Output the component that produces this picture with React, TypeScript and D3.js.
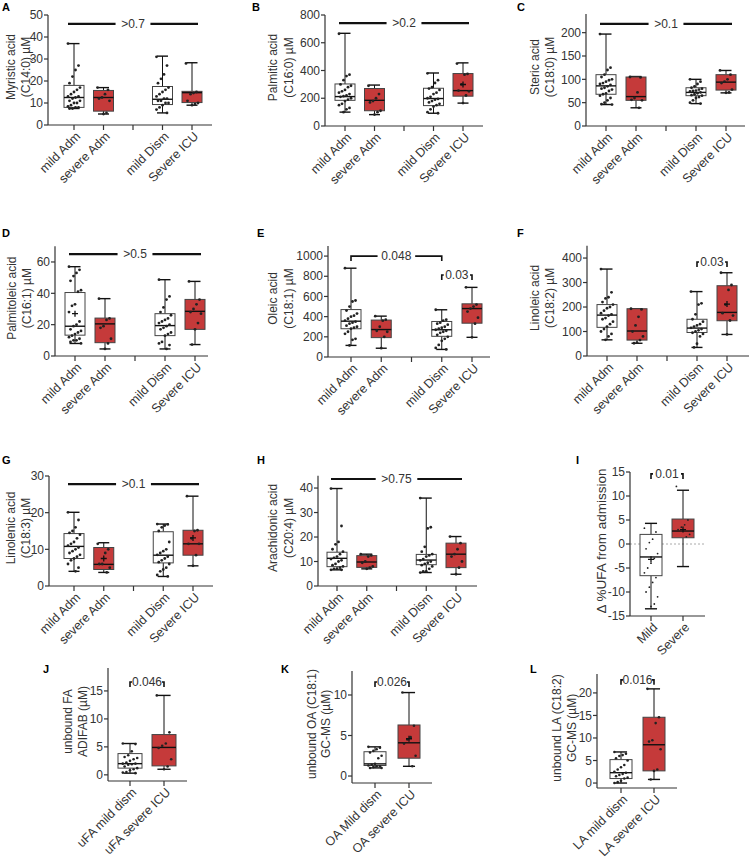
import React from "react";
import * as d3 from "d3";

// ---------- categories ----------
const CATS_FA = ["mild Adm", "severe Adm", "mild Dism", "Severe ICU"];
const CATS_I = ["Mild", "Severe"];
const CATS_J = ["uFA mild dism", "uFA severe ICU"];
const CATS_K = ["OA Mild dism", "OA severe ICU"];
const CATS_L = ["LA mild dism", "LA severe ICU"];

// ---------- box stats: [min, q1, median, q3, max] ----------
const A_BOX = [[7.5, 8, 12.5, 18, 37], [5, 6.3, 12.5, 15.7, 17], [5.5, 9.3, 11.7, 17.5, 31.3], [9, 10.2, 14.7, 15.3, 28.3]];
const B_BOX = [[100, 185, 212, 303, 668], [82, 110, 185, 270, 295], [92, 147, 198, 272, 382], [165, 215, 255, 378, 455]];
const C_BOX = [[46, 68, 86, 110, 197], [39, 55, 63, 105, 106], [48, 65, 72, 82, 100], [71, 77, 94, 110, 119]];
const D_BOX = [[8, 13.3, 19, 40.5, 57], [4.5, 8.5, 20.5, 24.2, 36.6], [4.5, 13, 19.4, 27, 48.7], [7.3, 17, 28.5, 36.1, 47.6]];
const E_BOX = [[115, 280, 355, 470, 880], [87, 192, 272, 366, 405], [75, 205, 270, 352, 468], [195, 335, 480, 527, 690]];
const F_BOX = [[66, 117, 167, 210, 355], [52, 65, 102, 193, 193], [35, 96, 114, 150, 263], [88, 144, 178, 287, 340]];
const G_BOX = [[4, 7.5, 10.8, 14.3, 20.1], [3.7, 4.5, 5.9, 10.5, 11.8], [2.6, 6.3, 8.4, 14.8, 16.9], [5.5, 8.4, 11.5, 15.2, 24.5]];
const H_BOX = [[6.6, 7.9, 11.3, 13.8, 39.8], [7, 7.6, 9.8, 12.4, 13], [5.5, 8.7, 10.6, 12.9, 35.9], [4.8, 7.5, 13, 17.5, 20.2]];
const I_BOX = [[-13.5, -6.6, -2.7, 2.0, 4.3], [-4.7, 1.3, 2.7, 5.2, 11.2]];
const J_BOX = [[0.3, 1.2, 2.0, 3.8, 5.6], [1.0, 1.6, 4.9, 7.2, 14.2]];
const K_BOX = [[1.0, 1.3, 1.5, 3.0, 3.6], [1.2, 2.2, 4.1, 6.3, 10.3]];
const L_BOX = [[0, 1.0, 2.3, 5.2, 6.9], [0.8, 2.7, 8.5, 14.6, 20.9]];

// ---------- means ("+" markers) ----------
const A_MEAN = [null, null, null, null];
const B_MEAN = [null, null, null, 299];
const C_MEAN = [null, null, null, null];
const D_MEAN = [27, null, null, null];
const E_MEAN = [null, null, null, null];
const F_MEAN = [null, null, null, 212];
const G_MEAN = [null, 7.5, null, 13.1];
const H_MEAN = [null, null, null, null];
const I_MEAN = [-3.2, 3.0];
const J_MEAN = [null, null];
const K_MEAN = [null, 4.6];
const L_MEAN = [null, null];

// ---------- individual points ----------
const A_PTS = [
  [37, 27, 25, 22, 19, 17, 16, 15, 14, 13, 13, 12.5, 12, 11, 11, 10, 10, 9, 8.5, 8, 8, 7.5, 7.5],
  [17, 16, 14, 12.5, 12, 11, 5.5, 5],
  [31, 27, 23, 21, 19, 17, 16, 15, 14, 13, 12, 12, 11, 11, 10, 10, 9, 8, 7, 5.5],
  [28, 15, 14.5, 14, 11, 10, 9.5, 9],
];
const B_PTS = [
  [665, 370, 360, 330, 300, 290, 280, 260, 250, 240, 230, 220, 215, 210, 200, 190, 180, 160, 150, 130, 120, 100],
  [290, 230, 200, 180, 170, 110, 100, 82],
  [380, 330, 310, 280, 270, 260, 240, 230, 210, 200, 195, 190, 180, 170, 160, 150, 140, 120, 100, 92],
  [450, 375, 370, 300, 255, 250, 220, 165],
];
const C_PTS = [
  [197, 125, 120, 110, 105, 100, 98, 95, 92, 90, 88, 85, 82, 80, 78, 75, 70, 68, 65, 60, 55, 50, 47, 46],
  [105, 104, 72, 60, 56, 55, 39],
  [100, 95, 90, 85, 82, 80, 78, 76, 75, 74, 72, 70, 68, 66, 65, 62, 60, 55, 50, 48],
  [119, 110, 100, 95, 92, 78, 72, 71],
];
const D_PTS = [
  [57, 55, 53, 51, 48, 42, 41, 33, 32, 28, 22, 20, 19, 17, 16, 15, 14, 13, 12, 11, 10, 10, 9, 8],
  [36.6, 24, 23, 19, 18, 11, 8, 4.5],
  [48.7, 38, 36, 31, 28, 26, 24, 23, 22, 21, 20, 19, 18, 17, 15, 14, 13, 9, 8, 7, 4.5],
  [47.6, 36, 33, 30, 28, 27, 21, 17, 7.3],
];
const E_PTS = [
  [880, 560, 550, 500, 460, 430, 410, 400, 380, 360, 350, 340, 330, 310, 300, 290, 280, 250, 230, 180, 170, 115],
  [405, 370, 360, 300, 260, 250, 200, 87],
  [468, 370, 360, 340, 330, 320, 300, 290, 280, 270, 260, 250, 240, 220, 200, 180, 160, 120, 90, 75],
  [690, 520, 500, 480, 450, 390, 330, 195],
];
const F_PTS = [
  [355, 260, 240, 235, 220, 210, 200, 195, 185, 175, 170, 165, 155, 150, 140, 130, 120, 110, 100, 90, 80, 66],
  [193, 190, 160, 125, 100, 80, 65, 55, 52],
  [263, 215, 210, 170, 150, 140, 130, 125, 120, 115, 110, 105, 100, 95, 90, 80, 50, 35],
  [340, 290, 270, 210, 175, 165, 145, 88],
];
const G_PTS = [
  [20.1, 18, 16, 15, 14.5, 14, 13, 12, 11.5, 11, 10.5, 10, 9.5, 9, 8.5, 8, 7.5, 7, 6, 5, 4],
  [11.5, 10, 9, 6, 6, 5, 3.7],
  [16.9, 16.8, 16.5, 16, 15, 12, 10, 9.5, 9, 8.5, 8, 7.5, 7, 6.5, 6, 5, 4.5, 4, 3, 2.6],
  [24.5, 15.2, 15, 13, 11.5, 11.5, 8.4, 5.5],
];
const H_PTS = [
  [39.8, 24.5, 18, 17, 15, 14, 13, 12, 11.5, 11, 10.5, 10, 9, 8.5, 8, 7.5, 7, 7, 6.6, 6.6],
  [13, 12.5, 12, 10, 9.5, 8, 7.5, 7],
  [35.9, 24, 23.5, 16, 14, 13, 12.5, 12, 11, 10.5, 10, 9.5, 9, 8.5, 8, 7, 6, 6, 5.5],
  [20.2, 17.5, 15, 13, 12, 10, 7.5, 4.8],
];
const I_PTS = [
  [3.3, 2.5, 1, 0.3, -1, -2, -3, -4, -5, -6, -7, -8, -9, -10, -11, -12.5, -13],
  [12, 5, 4, 3.5, 3, 2, 1.5],
];
const J_PTS = [
  [5.6, 5.5, 4.2, 3.5, 3.2, 3, 2.8, 2.5, 2.2, 2, 2, 1.9, 1.8, 1.5, 1.2, 1, 0.8, 0.5, 0.4, 0.3],
  [14.2, 7.6, 5.6, 5.2, 4.8, 2.8, 1.5, 1.0],
];
const K_PTS = [
  [3.6, 3.5, 3.3, 3.1, 2.9, 2.5, 2.2, 1.5, 1.4, 1.3, 1.2, 1.2, 1.1, 1.0, 1.0],
  [10.3, 6.2, 4.8, 4.5, 4.0, 2.5, 1.2],
];
const L_PTS = [
  [6.9, 6.5, 6.2, 6, 5.5, 5, 4, 3.5, 3, 2.5, 2.3, 2, 1.8, 1.5, 1.2, 1, 0.5, 0.2, 0],
  [20.9, 14.6, 13.3, 9.5, 9.2, 7.5, 3, 2.7, 0.8],
];

// ---------- significance labels ----------
const SIG_A = [">0.7"];
const SIG_B = [">0.2"];
const SIG_C = [">0.1"];
const SIG_D = [">0.5"];
const SIG_E = ["0.048", "0.03"];
const SIG_F = ["0.03"];
const SIG_G = [">0.1"];
const SIG_H = [">0.75"];
const SIG_I = ["0.01"];
const SIG_J = ["0.046"];
const SIG_K = ["0.026"];
const SIG_L = ["0.016"];

// ---------- styles / layout ----------
const RED = "#c53a3a";
const INK = "#333";
const FONT = "'Liberation Sans', Arial, sans-serif";
const FS = 12;

type Sig = { kind: "line" | "bracket"; from: number; to: number; y: number; text: string };
type PanelSpec = {
  letter: string; lx: number; ly: number;
  cats: string[]; slots: number[]; tickSlots: number[]; lastSlot: number;
  left: number; x0: number; x1: number; right: number;
  yDomain: [number, number]; yRange: [number, number]; ticks: number[];
  yLabel: string[]; yLabelX: number[]; yLabelFs?: number;
  box: number[][]; pts: number[][]; means: (number | null)[];
  fills: string[]; bw: number; r: number;
  sigs: Sig[]; zeroLine?: boolean;
};

const FA_SLOTS = [0, 1, 3, 4];
const FA_TICKS = [0, 1, 2, 3, 4];
const FA_FILLS = ["#fff", RED, "#fff", RED];
const PAIR_FILLS = ["#fff", RED];

const PANELS: PanelSpec[] = [
  { letter: "A", lx: 2, ly: 11, cats: CATS_FA, slots: FA_SLOTS, tickSlots: FA_TICKS, lastSlot: 4,
    left: 48, x0: 74, x1: 192, right: 212, yDomain: [0, 50], yRange: [125, 15], ticks: d3.range(0, 51, 10),
    yLabel: ["Myristic acid", "(C14:0) µM"], yLabelX: [11, 26], box: A_BOX, pts: A_PTS, means: A_MEAN,
    fills: FA_FILLS, bw: 10, r: 1.4, sigs: [{ kind: "line", from: 0, to: 4, y: 46, text: SIG_A[0] }] },
  { letter: "B", lx: 252, ly: 11, cats: CATS_FA, slots: FA_SLOTS, tickSlots: FA_TICKS, lastSlot: 4,
    left: 325, x0: 345, x1: 463, right: 483, yDomain: [0, 800], yRange: [126, 15], ticks: d3.range(0, 801, 200),
    yLabel: ["Palmitic acid", "(C16:0) µM"], yLabelX: [273, 289], box: B_BOX, pts: B_PTS, means: B_MEAN,
    fills: FA_FILLS, bw: 10, r: 1.4, sigs: [{ kind: "line", from: 0, to: 4, y: 742, text: SIG_B[0] }] },
  { letter: "C", lx: 517, ly: 11, cats: CATS_FA, slots: FA_SLOTS, tickSlots: FA_TICKS, lastSlot: 4,
    left: 586, x0: 606, x1: 726, right: 745, yDomain: [0, 240], yRange: [126, 14], ticks: d3.range(0, 201, 50),
    yLabel: ["Steric acid", "(C18:0) µM"], yLabelX: [535, 550], box: C_BOX, pts: C_PTS, means: C_MEAN,
    fills: FA_FILLS, bw: 10, r: 1.4, sigs: [{ kind: "line", from: 0, to: 4, y: 219, text: SIG_C[0] }] },
  { letter: "D", lx: 2, ly: 237, cats: CATS_FA, slots: FA_SLOTS, tickSlots: FA_TICKS, lastSlot: 4,
    left: 55, x0: 75, x1: 195, right: 208, yDomain: [0, 70], yRange: [356, 246.3], ticks: d3.range(0, 61, 20),
    yLabel: ["Palmitoleic acid", "(C16:1) µM"], yLabelX: [12, 27], box: D_BOX, pts: D_PTS, means: D_MEAN,
    fills: FA_FILLS, bw: 10, r: 1.4, sigs: [{ kind: "line", from: 0, to: 4, y: 65, text: SIG_D[0] }] },
  { letter: "E", lx: 257, ly: 237, cats: CATS_FA, slots: FA_SLOTS, tickSlots: FA_TICKS, lastSlot: 4,
    left: 328, x0: 351, x1: 472, right: 490, yDomain: [0, 1100], yRange: [357, 246], ticks: d3.range(0, 1001, 200),
    yLabel: ["Oleic acid", "(C18:1) µM"], yLabelX: [273, 289], box: E_BOX, pts: E_PTS, means: E_MEAN,
    fills: FA_FILLS, bw: 10, r: 1.4,
    sigs: [{ kind: "bracket", from: 0, to: 3, y: 1000, text: SIG_E[0] }, { kind: "bracket", from: 3, to: 4, y: 812, text: SIG_E[1] }] },
  { letter: "F", lx: 517, ly: 237, cats: CATS_FA, slots: FA_SLOTS, tickSlots: FA_TICKS, lastSlot: 4,
    left: 587, x0: 607, x1: 727, right: 749, yDomain: [0, 450], yRange: [356, 245.8], ticks: d3.range(0, 401, 100),
    yLabel: ["Linoleic acid", "(C18:2) µM"], yLabelX: [535, 550], box: F_BOX, pts: F_PTS, means: F_MEAN,
    fills: FA_FILLS, bw: 10, r: 1.4, sigs: [{ kind: "bracket", from: 3, to: 4, y: 384, text: SIG_F[0] }] },
  { letter: "G", lx: 2, ly: 464, cats: CATS_FA, slots: FA_SLOTS, tickSlots: FA_TICKS, lastSlot: 4,
    left: 49, x0: 74, x1: 193, right: 213, yDomain: [0, 30], yRange: [586, 476], ticks: d3.range(0, 31, 10),
    yLabel: ["Linolenic acid", "(C18:3) µM"], yLabelX: [11, 26], box: G_BOX, pts: G_PTS, means: G_MEAN,
    fills: FA_FILLS, bw: 10, r: 1.4, sigs: [{ kind: "line", from: 0, to: 4, y: 27.8, text: SIG_G[0] }] },
  { letter: "H", lx: 257, ly: 464, cats: CATS_FA, slots: FA_SLOTS, tickSlots: FA_TICKS, lastSlot: 4,
    left: 318, x0: 337, x1: 456, right: 477, yDomain: [0, 45], yRange: [586, 475.8], ticks: d3.range(0, 41, 10),
    yLabel: ["Arachidonic acid", "(C20:4) µM"], yLabelX: [273, 289], box: H_BOX, pts: H_PTS, means: H_MEAN,
    fills: FA_FILLS, bw: 10, r: 1.4, sigs: [{ kind: "line", from: 0, to: 4, y: 43.7, text: SIG_H[0] }] },
  { letter: "I", lx: 576, ly: 464, cats: CATS_I, slots: [0, 1], tickSlots: [0, 1], lastSlot: 1,
    left: 630, x0: 651, x1: 683, right: 705, yDomain: [-15, 15], yRange: [616, 472], ticks: d3.range(-15, 16, 5),
    yLabel: ["Δ %UFA from admission"], yLabelX: [601], yLabelFs: 13.5, box: I_BOX, pts: I_PTS, means: I_MEAN,
    fills: PAIR_FILLS, bw: 11, r: 0.9, zeroLine: true, sigs: [{ kind: "bracket", from: 0, to: 1, y: 14.6, text: SIG_I[0] }] },
  { letter: "J", lx: 43, ly: 673, cats: CATS_J, slots: [0, 1], tickSlots: [0, 1], lastSlot: 1,
    left: 108, x0: 130, x1: 164, right: 187, yDomain: [-1.1, 19.1], yRange: [781, 668], ticks: d3.range(0, 16, 5),
    yLabel: ["unbound FA", "ADIFAB (µM)"], yLabelX: [68, 83], box: J_BOX, pts: J_PTS, means: J_MEAN,
    fills: PAIR_FILLS, bw: 12, r: 1.3, sigs: [{ kind: "bracket", from: 0, to: 1, y: 16.6, text: SIG_J[0] }] },
  { letter: "K", lx: 281, ly: 673, cats: CATS_K, slots: [0, 1], tickSlots: [0, 1], lastSlot: 1,
    left: 352, x0: 375, x1: 409, right: 432, yDomain: [-0.86, 12.96], yRange: [783, 671], ticks: d3.range(0, 11, 5),
    yLabel: ["unbound OA (C18:1)", "GC-MS (µM)"], yLabelX: [312, 326], box: K_BOX, pts: K_PTS, means: K_MEAN,
    fills: PAIR_FILLS, bw: 11, r: 1.3, sigs: [{ kind: "bracket", from: 0, to: 1, y: 11.6, text: SIG_K[0] }] },
  { letter: "L", lx: 530, ly: 673, cats: CATS_L, slots: [0, 1], tickSlots: [0, 1], lastSlot: 1,
    left: 597, x0: 621, x1: 654, right: 677, yDomain: [-1.1, 24.2], yRange: [788, 674], ticks: d3.range(0, 21, 5),
    yLabel: ["unbound LA (C18:2)", "GC-MS (µM)"], yLabelX: [557, 572], box: L_BOX, pts: L_PTS, means: L_MEAN,
    fills: PAIR_FILLS, bw: 11, r: 1.3, sigs: [{ kind: "bracket", from: 0, to: 1, y: 22.9, text: SIG_L[0] }] },
];

const jitter = (i: number, bw: number) => (((i * 7) % 9) - 4) * (bw * 0.15);

function Panel({ p }: { p: PanelSpec }) {
  const y = d3.scaleLinear().domain(p.yDomain).range(p.yRange);
  const x = d3.scaleLinear().domain([0, p.lastSlot]).range([p.x0, p.x1]);
  const axisY = y(p.yDomain[0]);
  const yTopPx = p.yRange[1];
  const labelMid = (p.yRange[0] + p.yRange[1]) / 2 - 3;
  const textW = (s: string) => s.length * FS * 0.56;

  return (
    <g>
      <text x={p.lx} y={p.ly} fontSize={11} fontWeight="bold" fill="#000" fontFamily={FONT}>{p.letter}</text>

      {p.yLabel.map((s, i) => (
        <text key={i} transform={`translate(${p.yLabelX[i]},${labelMid}) rotate(-90)`} textAnchor="middle"
          dy="0.35em" fontSize={p.yLabelFs ?? FS} fill={INK} fontFamily={FONT}>{s}</text>
      ))}

      {p.zeroLine && (
        <line x1={p.left} x2={p.right} y1={y(0)} y2={y(0)} stroke="#aaa" strokeWidth={1} strokeDasharray="2,2" />
      )}

      {/* boxes */}
      {p.box.map((b, i) => {
        const cx = x(p.slots[i]);
        const [mn, q1, md, q3, mx] = b;
        const cap = p.bw * 0.55;
        return (
          <g key={i}>
            <line x1={cx} x2={cx} y1={y(mx)} y2={y(q3)} stroke="#111" strokeWidth={1} />
            <line x1={cx} x2={cx} y1={y(q1)} y2={y(mn)} stroke="#111" strokeWidth={1} />
            <line x1={cx - cap} x2={cx + cap} y1={y(mx)} y2={y(mx)} stroke="#111" strokeWidth={1.4} />
            <line x1={cx - cap} x2={cx + cap} y1={y(mn)} y2={y(mn)} stroke="#111" strokeWidth={1.4} />
            <rect x={cx - p.bw} y={y(q3)} width={p.bw * 2} height={Math.max(0.5, y(q1) - y(q3))}
              fill={p.fills[i]} stroke="#444" strokeWidth={1} />
            <line x1={cx - p.bw} x2={cx + p.bw} y1={y(md)} y2={y(md)} stroke="#111" strokeWidth={1.4} />
            {p.pts[i].map((v, j) => (
              <circle key={j} cx={cx + jitter(j, p.bw)} cy={y(v)} r={p.r} fill="#222" />
            ))}
            {p.means[i] != null && (
              <path d={`M${cx - 3},${y(p.means[i] as number)}h6M${cx},${y(p.means[i] as number) - 3}v6`}
                stroke="#111" strokeWidth={1.3} />
            )}
          </g>
        );
      })}

      {/* y axis */}
      <line x1={p.left} x2={p.left} y1={axisY} y2={yTopPx} stroke={INK} strokeWidth={1.2} />
      {p.ticks.map((t) => (
        <g key={t}>
          <line x1={p.left - 4} x2={p.left} y1={y(t)} y2={y(t)} stroke={INK} strokeWidth={1.2} />
          <text x={p.left - 5} y={y(t)} dy="0.35em" textAnchor="end" fontSize={FS} fill={INK} fontFamily={FONT}>{t}</text>
        </g>
      ))}

      {/* x axis */}
      <line x1={p.left} x2={p.right} y1={axisY} y2={axisY} stroke={INK} strokeWidth={1.2} />
      {p.tickSlots.map((s) => (
        <line key={s} x1={x(s)} x2={x(s)} y1={axisY} y2={axisY + 5} stroke={INK} strokeWidth={1.2} />
      ))}
      {p.cats.map((c, i) => (
        <text key={c} transform={`translate(${x(p.slots[i]) + 4},${axisY + 9}) rotate(-45)`} textAnchor="end"
          dy="0.35em" fontSize={FS + 0.5} fill={INK} fontFamily={FONT}>{c}</text>
      ))}

      {/* significance */}
      {p.sigs.map((s, k) => {
        const yy = y(s.y);
        if (s.kind === "line") {
          const x1 = x(s.from) - 6, x2 = x(s.to) + 6;
          const cx = (x1 + x2) / 2, hw = textW(s.text) / 2 + 4;
          return (
            <g key={k}>
              <line x1={x1} x2={cx - hw} y1={yy} y2={yy} stroke="#111" strokeWidth={2.2} />
              <line x1={cx + hw} x2={x2} y1={yy} y2={yy} stroke="#111" strokeWidth={2.2} />
              <text x={cx} y={yy} dy="0.35em" textAnchor="middle" fontSize={FS} fill={INK} fontFamily={FONT}>{s.text}</text>
            </g>
          );
        }
        const x1 = x(s.from), x2 = x(s.to);
        const cx = (x1 + x2) / 2, hw = textW(s.text) / 2 + 2;
        return (
          <g key={k}>
            <path d={`M${x1},${yy + 5}V${yy}H${Math.max(x1 + 2, cx - hw)}`} fill="none" stroke="#111" strokeWidth={1.6} />
            <path d={`M${x2},${yy + 5}V${yy}H${Math.min(x2 - 2, cx + hw)}`} fill="none" stroke="#111" strokeWidth={1.6} />
            <text x={cx} y={yy} dy="0.35em" textAnchor="middle" fontSize={FS} fill={INK} fontFamily={FONT}>{s.text}</text>
          </g>
        );
      })}
    </g>
  );
}

export default function App() {
  return (
    <svg width={749} height={859} style={{ display: "block", position: "absolute", left: 0, top: 0, background: "#fff" }}>
      <rect width={749} height={859} fill="#fff" />
      {PANELS.map((p) => (
        <Panel key={p.letter} p={p} />
      ))}
    </svg>
  );
}
